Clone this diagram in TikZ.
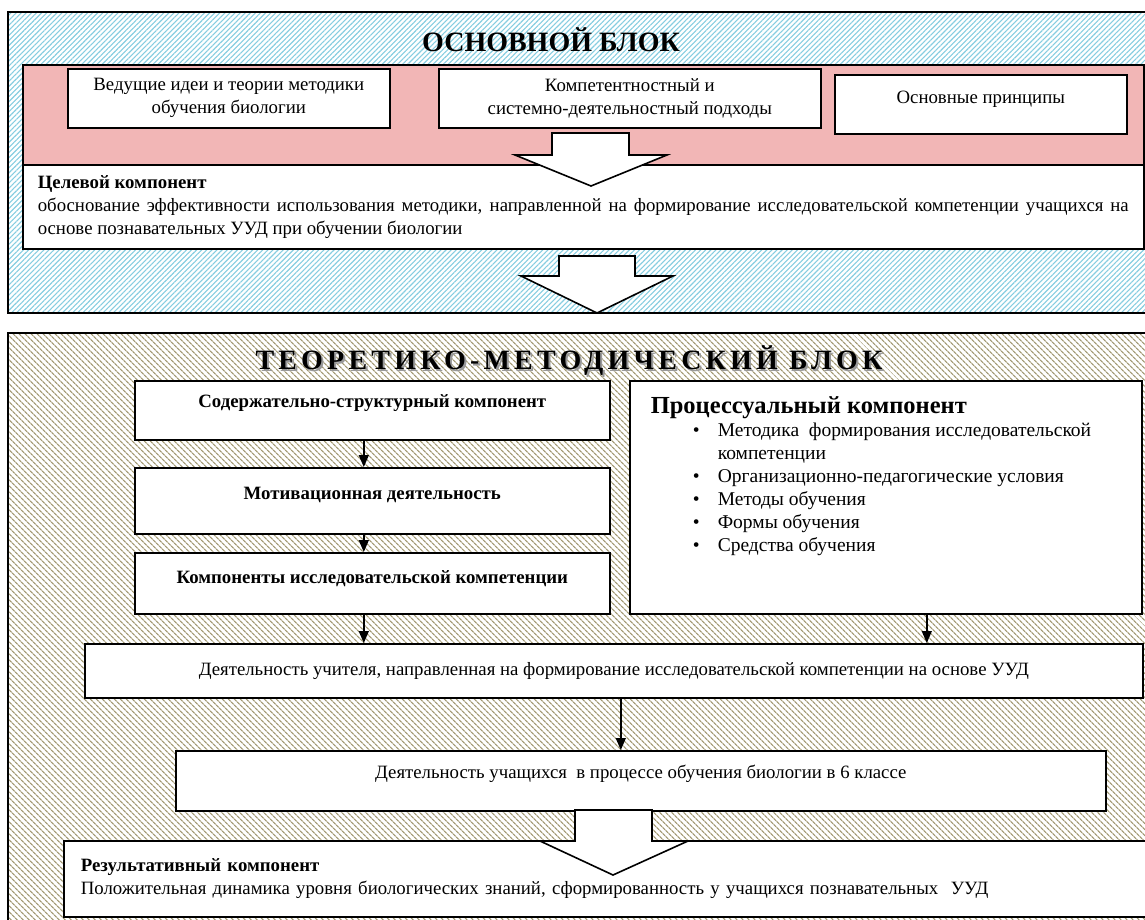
\documentclass[tikz,border=0pt]{standalone}
\usepackage{fontspec}
\setmainfont{Liberation Serif}
\usetikzlibrary{arrows.meta,patterns.meta}

\definecolor{bandpink}{HTML}{F2B6B6}
\definecolor{hatchblue}{HTML}{86CDE0}
\definecolor{hatchtan}{HTML}{A39A74}

\newcommand{\bodyfont}{\fontsize{18.8}{23}\selectfont}
\newcommand{\titlefont}{\fontsize{28}{32}\selectfont\bfseries}

\tikzset{
  frame/.style={draw=black, line width=2pt},
  box/.style={draw=black, fill=white, line width=1.6pt, inner sep=0pt, align=center, font=\bodyfont, anchor=north west},
  lift/.style={text height=13pt, text depth=#1},
  flow/.style={line width=1.4pt, -{Triangle[length=12pt,width=10pt]}},
  bigarrow/.style={draw=black, fill=white, line width=1.6pt, line join=miter},
}

\begin{document}
\begin{tikzpicture}[x=1pt, y=-1pt]
    \useasboundingbox (0,0) rectangle (1145,920);
    \clip (0,0) rectangle (1145,920);

    % upper block
    \draw [frame, pattern={Lines[angle=45,distance=3.6pt,line width=1.1pt]}, pattern color=hatchblue] (8,12) rectangle (1170,313);
    \node (basetitle) [font=\titlefont] at (551,40) {ОСНОВНОЙ БЛОК};
    \node (band) [box, fill=bandpink, minimum width=1121, minimum height=100] at (22,64) {};
    \node (ideas) [box, minimum width=322, minimum height=59] at (67,68) {Ведущие идеи и теории методики\\обучения биологии};
    \node (approach) [box, minimum width=382, minimum height=59] at (438,68) {Компетентностный и\\системно-деятельностный подходы};
    \node (principles) [box, lift=14pt, minimum width=292, minimum height=59] at (834,74) {Основные принципы};
    \node (goal) [box, minimum width=1121, minimum height=84, text width=1091, align=justify] at (22,164)
        {\textbf{Целевой компонент}\\обоснование эффективности использования методики, направленной на формирование исследовательской компетенции учащихся на\linebreak основе познавательных УУД при обучении биологии};
    \draw [bigarrow] (552,133) -- (629,133) -- (629,155) -- (667,155) -- (591,186) -- (515,155) -- (552,155) -- cycle;
    \draw [bigarrow] (559,256) -- (635,256) -- (635,276) -- (673,276) -- (597,313) -- (521,276) -- (559,276) -- cycle;

    % lower block
    \draw [frame, pattern={Lines[angle=-45,distance=4pt,line width=1.3pt]}, pattern color=hatchtan] (8,333) rectangle (1170,940);
    \node (shadowtitle) [font=\titlefont\addfontfeature{LetterSpace=15}, text=black!40] at (571,363) {ТЕОРЕТИКО-МЕТОДИЧЕСКИЙ БЛОК};
    \node (methodtitle) [font=\titlefont\addfontfeature{LetterSpace=15}] at (569,361) {ТЕОРЕТИКО-МЕТОДИЧЕСКИЙ БЛОК};
    \node (content) [box, lift=18pt, font=\bodyfont\bfseries, minimum width=475, minimum height=59] at (134,380) {Содержательно-структурный компонент};
    \node (motive) [box, lift=15pt, font=\bodyfont\bfseries, minimum width=475, minimum height=66] at (134,467) {Мотивационная деятельность};
    \node (research) [box, lift=12pt, font=\bodyfont\bfseries, minimum width=475, minimum height=61] at (134,552) {Компоненты исследовательской компетенции};
    \node (process) [box, minimum width=512, minimum height=233] at (629,380)
        {\parbox[c][233pt][t]{470pt}{\raggedright\vspace*{16pt}%
        {\fontsize{24.5}{28}\selectfont\bfseries Процессуальный компонент}\par
        \fontsize{19.5}{23}\selectfont
        \begin{tabular}{@{\hspace{42pt}}p{25pt}@{}l@{}}
        \textbullet & Методика\ \ формирования исследовательской\\
                    & компетенции\\
        \textbullet & Организационно-педагогические условия\\
        \textbullet & Методы обучения\\
        \textbullet & Формы обучения\\
        \textbullet & Средства обучения
        \end{tabular}}};
    \node (teacher) [box, minimum width=1058, minimum height=54] at (84,643) {Деятельность учителя, направленная на формирование исследовательской компетенции на основе УУД};
    \node (pupils) [box, lift=17pt, minimum width=930, minimum height=60] at (175,750) {Деятельность учащихся\ \ в процессе обучения биологии в 6 классе};
    \node (result) [box, minimum width=1100, minimum height=76, text width=1066, align=left] at (63,840)
        {\textbf{Результативный компонент}\\Положительная динамика уровня биологических знаний, сформированность у учащихся познавательных\ \ УУД};

    \coordinate (r1) at ([xshift=-8.5pt]research.south);
    \coordinate (p1) at ([xshift=41pt]process.south);
    \coordinate (t1) at ([xshift=7pt]teacher.south);
    \draw [flow] ([xshift=-8.5pt]content.south) -- ([xshift=-8.5pt]motive.north);
    \draw [flow] ([xshift=-8.5pt]motive.south) -- ([xshift=-8.5pt]research.north);
    \draw [flow] (r1) -- (r1 |- teacher.north);
    \draw [flow] (p1) -- (p1 |- teacher.north);
    \draw [flow] (t1) -- (t1 |- pupils.north);
    \draw [bigarrow] (575,810) -- (652,810) -- (652,841) -- (688,841) -- (613,875) -- (540,841) -- (575,841) -- cycle;
\end{tikzpicture}
\end{document}
